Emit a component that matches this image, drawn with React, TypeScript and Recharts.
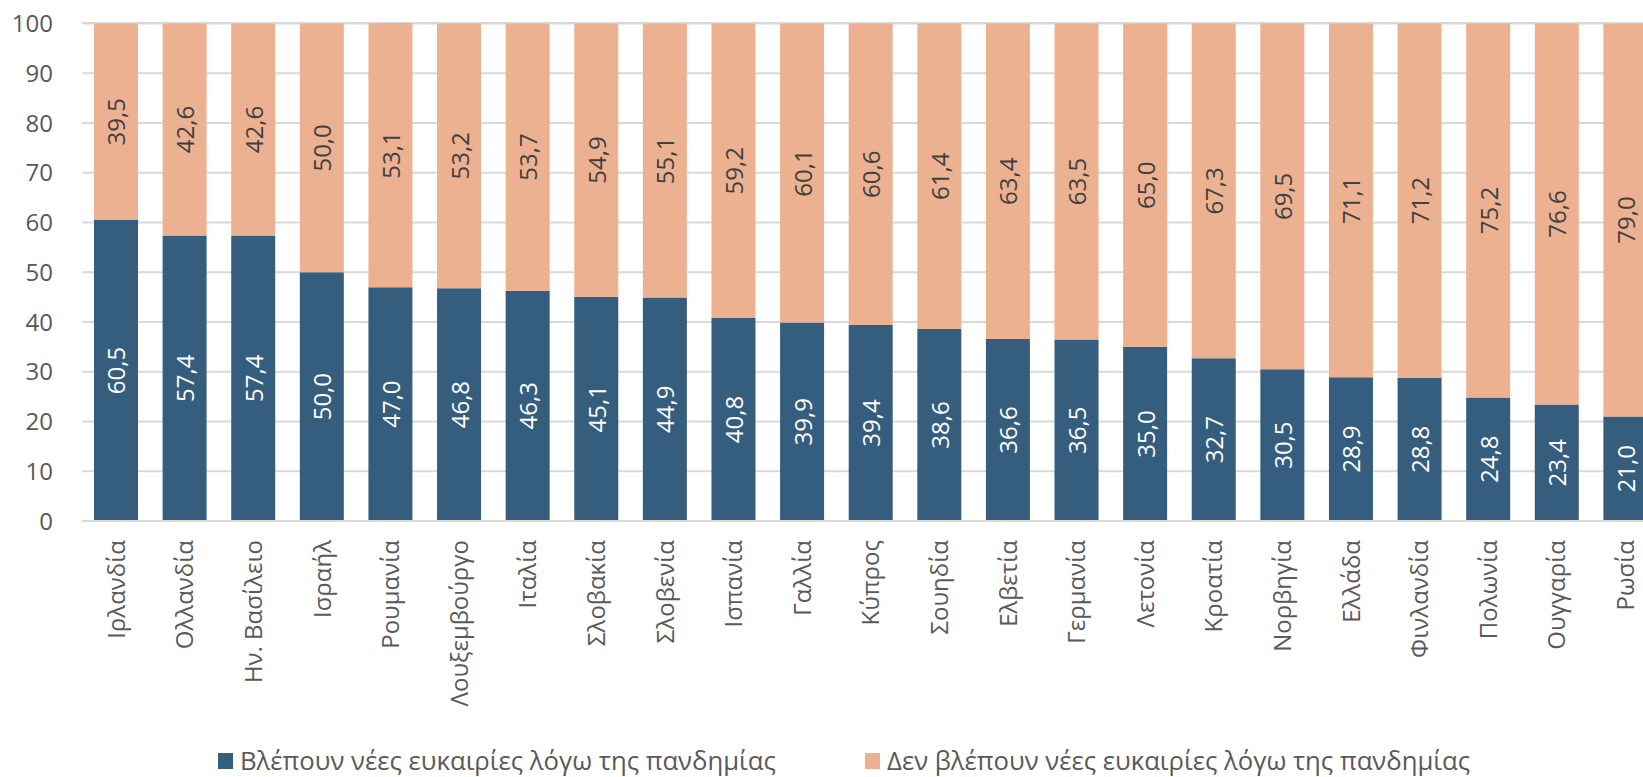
import React from 'react';
import { BarChart, Bar, XAxis, YAxis, CartesianGrid, LabelList, Legend } from 'recharts';

const countries = ['Ιρλανδία', 'Ολλανδία', 'Ην. Βασίλειο', 'Ισραήλ', 'Ρουμανία', 'Λουξεμβούργο', 'Ιταλία', 'Σλοβακία', 'Σλοβενία', 'Ισπανία', 'Γαλλία', 'Κύπρος', 'Σουηδία', 'Ελβετία', 'Γερμανία', 'Λετονία', 'Κροατία', 'Νορβηγία', 'Ελλάδα', 'Φινλανδία', 'Πολωνία', 'Ουγγαρία', 'Ρωσία'];
const seeOpportunities = [60.5, 57.4, 57.4, 50.0, 47.0, 46.8, 46.3, 45.1, 44.9, 40.8, 39.9, 39.4, 38.6, 36.6, 36.5, 35.0, 32.7, 30.5, 28.9, 28.8, 24.8, 23.4, 21.0];
const noOpportunities = [39.5, 42.6, 42.6, 50.0, 53.1, 53.2, 53.7, 54.9, 55.1, 59.2, 60.1, 60.6, 61.4, 63.4, 63.5, 65.0, 67.3, 69.5, 71.1, 71.2, 75.2, 76.6, 79.0];
const yTicks = [0, 10, 20, 30, 40, 50, 60, 70, 80, 90, 100];
const seriesNames = ['Βλέπουν νέες ευκαιρίες λόγω της πανδημίας', 'Δεν βλέπουν νέες ευκαιρίες λόγω της πανδημίας'];

const data = countries.map((c, i) => ({ name: c, yes: seeOpportunities[i], no: noOpportunities[i] }));

const FONT = '"Open Sans", "Noto Sans", sans-serif';
const BLUE = '#355D7E';
const ORANGE = '#ECB190';
const GRAY = '#595959';

const fmt = (v: number) => v.toFixed(1).replace('.', ',');

const makeLabel = (color: string) => (props: any) => {
  const { x, y, width, height, value } = props;
  const cx = x + width / 2;
  const cy = y + height / 2;
  return (
    <text x={cx} y={cy} transform={`rotate(-90, ${cx}, ${cy})`} textAnchor="middle" dominantBaseline="central"
      fill={color} fontSize={24} fontFamily={FONT}>{fmt(value)}</text>
  );
};

const XTick = (props: any) => {
  const { x, y, payload } = props;
  return (
    <text transform={`translate(${x},${y + 19}) rotate(-90)`} textAnchor="end" dy="0.35em"
      fill={GRAY} fontSize={24} fontFamily={FONT}>{payload.value}</text>
  );
};

const LegendContent = (props: any) => {
  const { payload } = props;
  const lefts = [218, 865];
  return (
    <div style={{ position: 'relative', height: 32, width: 1643 }}>
      {(payload || []).map((p: any, i: number) => (
        <div key={i} style={{ position: 'absolute', left: lefts[i], top: 0, height: 32, display: 'flex', alignItems: 'center', whiteSpace: 'nowrap' }}>
          <span style={{ display: 'inline-block', width: 15, height: 16, background: p.color, marginRight: 7 }} />
          <span style={{ fontFamily: FONT, fontSize: 25.7, color: GRAY, lineHeight: '32px' }}>{p.value}</span>
        </div>
      ))}
    </div>
  );
};

export default function App() {
  return (
    <div style={{ position: 'fixed', left: 0, top: 0, width: 1643, height: 777, overflow: 'hidden', background: '#fff' }}>
      <BarChart width={1670} height={777} data={data} margin={{ top: 23, right: 10, bottom: 0, left: 0 }} barSize={44}>
        <CartesianGrid vertical={false} stroke="#D9D9D9" strokeWidth={2} />
        <XAxis dataKey="name" height={224} interval={0} tickLine={false} tickSize={0} tickMargin={0}
          axisLine={{ stroke: '#D9D9D9', strokeWidth: 2 }} tick={<XTick />} />
        <YAxis width={82} domain={[0, 100]} ticks={yTicks} axisLine={false} tickLine={false} tickSize={0} tickMargin={29}
          tick={{ fill: GRAY, fontSize: 24, fontFamily: FONT }} />
        <Legend verticalAlign="bottom" align="left" content={<LegendContent />} wrapperStyle={{ left: 0, width: 1643 }} />
        <Bar dataKey="yes" name={seriesNames[0]} stackId="a" fill={BLUE} isAnimationActive={false}>
          <LabelList dataKey="yes" content={makeLabel('#FFFFFF')} />
        </Bar>
        <Bar dataKey="no" name={seriesNames[1]} stackId="a" fill={ORANGE} isAnimationActive={false}>
          <LabelList dataKey="no" content={makeLabel('#404040')} />
        </Bar>
      </BarChart>
    </div>
  );
}
